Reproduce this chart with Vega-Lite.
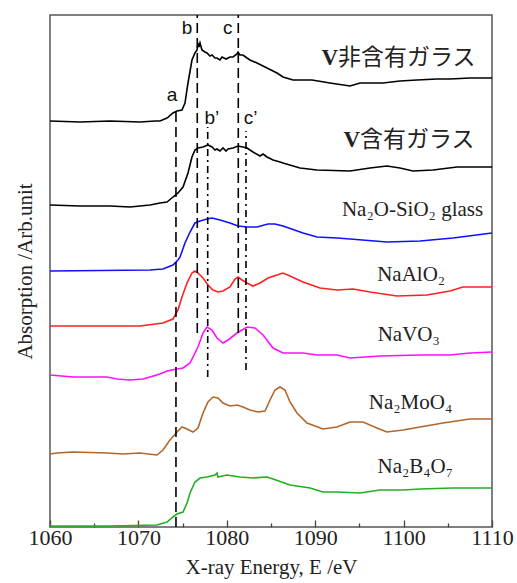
{
  "$schema": "https://vega.github.io/schema/vega-lite/v6.json",
  "width": 442,
  "height": 512,
  "autosize": "none",
  "padding": {"left": 50, "top": 15, "right": 25, "bottom": 56},
  "config": {"view": {"stroke": "#555555", "strokeWidth": 1.5}, "font": "Liberation Serif"},
  "datasets": {
    "spectra": [
      {"series": "V非含有ガラス", "E": 1060, "A": 406}, {"series": "V非含有ガラス", "E": 1063.39, "A": 405}, {"series": "V非含有ガラス", "E": 1066.79, "A": 406}, {"series": "V非含有ガラス", "E": 1070.18, "A": 405}, {"series": "V非含有ガラス", "E": 1071.88, "A": 406}, {"series": "V非含有ガラス", "E": 1072.44, "A": 406}, {"series": "V非含有ガラス", "E": 1073.24, "A": 409}, {"series": "V非含有ガラス", "E": 1073.91, "A": 414}, {"series": "V非含有ガラス", "E": 1074.37, "A": 416}, {"series": "V非含有ガラス", "E": 1074.93, "A": 417}, {"series": "V非含有ガラス", "E": 1075.27, "A": 424}, {"series": "V非含有ガラス", "E": 1075.61, "A": 444}, {"series": "V非含有ガラス", "E": 1076.06, "A": 467}, {"series": "V非含有ガラス", "E": 1076.4, "A": 474}, {"series": "V非含有ガラス", "E": 1076.63, "A": 477}, {"series": "V非含有ガラス", "E": 1076.74, "A": 484}, {"series": "V非含有ガラス", "E": 1076.86, "A": 480}, {"series": "V非含有ガラス", "E": 1076.97, "A": 484}, {"series": "V非含有ガラス", "E": 1077.19, "A": 477}, {"series": "V非含有ガラス", "E": 1077.53, "A": 475}, {"series": "V非含有ガラス", "E": 1077.76, "A": 474}, {"series": "V非含有ガラス", "E": 1078.1, "A": 471}, {"series": "V非含有ガラス", "E": 1078.33, "A": 472}, {"series": "V非含有ガラス", "E": 1078.67, "A": 469}, {"series": "V非含有ガラス", "E": 1078.89, "A": 469}, {"series": "V非含有ガラス", "E": 1079.23, "A": 467}, {"series": "V非含有ガラス", "E": 1079.46, "A": 470}, {"series": "V非含有ガラス", "E": 1079.91, "A": 468}, {"series": "V非含有ガラス", "E": 1080.36, "A": 470}, {"series": "V非含有ガラス", "E": 1080.7, "A": 470}, {"series": "V非含有ガラス", "E": 1081.15, "A": 473}, {"series": "V非含有ガラス", "E": 1081.27, "A": 475}, {"series": "V非含有ガラス", "E": 1081.49, "A": 472}, {"series": "V非含有ガラス", "E": 1081.83, "A": 472}, {"series": "V非含有ガラス", "E": 1082.29, "A": 469}, {"series": "V非含有ガラス", "E": 1082.62, "A": 467}, {"series": "V非含有ガラス", "E": 1083.42, "A": 464}, {"series": "V非含有ガラス", "E": 1084.55, "A": 459}, {"series": "V非含有ガラス", "E": 1085.68, "A": 454}, {"series": "V非含有ガラス", "E": 1086.36, "A": 450}, {"series": "V非含有ガラス", "E": 1087.49, "A": 447}, {"series": "V非含有ガラス", "E": 1088.62, "A": 447}, {"series": "V非含有ガラス", "E": 1089.64, "A": 447}, {"series": "V非含有ガラス", "E": 1091.67, "A": 444}, {"series": "V非含有ガラス", "E": 1093.94, "A": 441}, {"series": "V非含有ガラス", "E": 1095.07, "A": 444}, {"series": "V非含有ガラス", "E": 1097.67, "A": 444}, {"series": "V非含有ガラス", "E": 1099.59, "A": 446}, {"series": "V非含有ガラス", "E": 1101.52, "A": 447}, {"series": "V非含有ガラス", "E": 1103.78, "A": 448}, {"series": "V非含有ガラス", "E": 1105.25, "A": 448}, {"series": "V非含有ガラス", "E": 1107.51, "A": 449}, {"series": "V非含有ガラス", "E": 1110, "A": 449},

      {"series": "V含有ガラス", "E": 1060, "A": 322}, {"series": "V含有ガラス", "E": 1063.39, "A": 321}, {"series": "V含有ガラス", "E": 1066.79, "A": 321}, {"series": "V含有ガラス", "E": 1069.05, "A": 320}, {"series": "V含有ガラス", "E": 1071.31, "A": 322}, {"series": "V含有ガラス", "E": 1072.44, "A": 324}, {"series": "V含有ガラス", "E": 1073.24, "A": 325}, {"series": "V含有ガラス", "E": 1073.91, "A": 330}, {"series": "V含有ガラス", "E": 1074.48, "A": 334}, {"series": "V含有ガラス", "E": 1075.05, "A": 340}, {"series": "V含有ガラス", "E": 1075.61, "A": 354}, {"series": "V含有ガラス", "E": 1076.06, "A": 370}, {"series": "V含有ガラス", "E": 1076.4, "A": 377}, {"series": "V含有ガラス", "E": 1076.74, "A": 379}, {"series": "V含有ガラス", "E": 1077.31, "A": 380}, {"series": "V含有ガラス", "E": 1077.87, "A": 382}, {"series": "V含有ガラス", "E": 1078.33, "A": 380}, {"series": "V含有ガラス", "E": 1078.67, "A": 377}, {"series": "V含有ガラス", "E": 1078.89, "A": 378}, {"series": "V含有ガラス", "E": 1079.23, "A": 376}, {"series": "V含有ガラス", "E": 1079.57, "A": 379}, {"series": "V含有ガラス", "E": 1079.91, "A": 376}, {"series": "V含有ガラス", "E": 1080.14, "A": 378}, {"series": "V含有ガラス", "E": 1080.7, "A": 379}, {"series": "V含有ガラス", "E": 1081.27, "A": 381}, {"series": "V含有ガラス", "E": 1081.83, "A": 380}, {"series": "V含有ガラス", "E": 1082.29, "A": 379}, {"series": "V含有ガラス", "E": 1082.96, "A": 375}, {"series": "V含有ガラス", "E": 1083.76, "A": 371}, {"series": "V含有ガラス", "E": 1084.1, "A": 373}, {"series": "V含有ガラス", "E": 1084.55, "A": 370}, {"series": "V含有ガラス", "E": 1085.23, "A": 367}, {"series": "V含有ガラス", "E": 1086.02, "A": 365}, {"series": "V含有ガラス", "E": 1086.36, "A": 364}, {"series": "V含有ガラス", "E": 1088.28, "A": 359}, {"series": "V含有ガラス", "E": 1090.2, "A": 357}, {"series": "V含有ガラス", "E": 1093.94, "A": 356}, {"series": "V含有ガラス", "E": 1096.2, "A": 359}, {"series": "V含有ガラス", "E": 1098.12, "A": 361}, {"series": "V含有ガラス", "E": 1099.59, "A": 359}, {"series": "V含有ガラス", "E": 1101.06, "A": 356}, {"series": "V含有ガラス", "E": 1103.33, "A": 357}, {"series": "V含有ガラス", "E": 1106.04, "A": 360}, {"series": "V含有ガラス", "E": 1110, "A": 360},

      {"series": "Na2O-SiO2", "E": 1060, "A": 256}, {"series": "Na2O-SiO2", "E": 1071.31, "A": 257}, {"series": "Na2O-SiO2", "E": 1072.78, "A": 258}, {"series": "Na2O-SiO2", "E": 1073.91, "A": 262}, {"series": "Na2O-SiO2", "E": 1074.48, "A": 267}, {"series": "Na2O-SiO2", "E": 1074.71, "A": 270}, {"series": "Na2O-SiO2", "E": 1075.27, "A": 284}, {"series": "Na2O-SiO2", "E": 1075.84, "A": 295}, {"series": "Na2O-SiO2", "E": 1076.4, "A": 304}, {"series": "Na2O-SiO2", "E": 1076.97, "A": 306}, {"series": "Na2O-SiO2", "E": 1077.76, "A": 308}, {"series": "Na2O-SiO2", "E": 1078.33, "A": 309}, {"series": "Na2O-SiO2", "E": 1079.23, "A": 307}, {"series": "Na2O-SiO2", "E": 1080.36, "A": 304}, {"series": "Na2O-SiO2", "E": 1081.27, "A": 301}, {"series": "Na2O-SiO2", "E": 1082.29, "A": 300}, {"series": "Na2O-SiO2", "E": 1083.42, "A": 300}, {"series": "Na2O-SiO2", "E": 1084.66, "A": 303}, {"series": "Na2O-SiO2", "E": 1085.45, "A": 303}, {"series": "Na2O-SiO2", "E": 1086.36, "A": 301}, {"series": "Na2O-SiO2", "E": 1088.62, "A": 294}, {"series": "Na2O-SiO2", "E": 1090.2, "A": 290}, {"series": "Na2O-SiO2", "E": 1092.47, "A": 289}, {"series": "Na2O-SiO2", "E": 1093.94, "A": 288}, {"series": "Na2O-SiO2", "E": 1098.12, "A": 285}, {"series": "Na2O-SiO2", "E": 1101.86, "A": 286}, {"series": "Na2O-SiO2", "E": 1105.59, "A": 289}, {"series": "Na2O-SiO2", "E": 1110, "A": 294},

      {"series": "NaAlO2", "E": 1060, "A": 201}, {"series": "NaAlO2", "E": 1070.18, "A": 201}, {"series": "NaAlO2", "E": 1072.78, "A": 204}, {"series": "NaAlO2", "E": 1073.91, "A": 208}, {"series": "NaAlO2", "E": 1074.48, "A": 217}, {"series": "NaAlO2", "E": 1074.93, "A": 230}, {"series": "NaAlO2", "E": 1075.5, "A": 244}, {"series": "NaAlO2", "E": 1076.06, "A": 254}, {"series": "NaAlO2", "E": 1076.4, "A": 256}, {"series": "NaAlO2", "E": 1076.74, "A": 254}, {"series": "NaAlO2", "E": 1077.31, "A": 249}, {"series": "NaAlO2", "E": 1077.87, "A": 242}, {"series": "NaAlO2", "E": 1078.44, "A": 237}, {"series": "NaAlO2", "E": 1079.0, "A": 235}, {"series": "NaAlO2", "E": 1079.57, "A": 236}, {"series": "NaAlO2", "E": 1080.36, "A": 240}, {"series": "NaAlO2", "E": 1080.93, "A": 248}, {"series": "NaAlO2", "E": 1081.27, "A": 250}, {"series": "NaAlO2", "E": 1081.72, "A": 247}, {"series": "NaAlO2", "E": 1082.29, "A": 244}, {"series": "NaAlO2", "E": 1082.96, "A": 241}, {"series": "NaAlO2", "E": 1083.76, "A": 244}, {"series": "NaAlO2", "E": 1084.66, "A": 249}, {"series": "NaAlO2", "E": 1085.68, "A": 252}, {"series": "NaAlO2", "E": 1086.36, "A": 254}, {"series": "NaAlO2", "E": 1087.15, "A": 251}, {"series": "NaAlO2", "E": 1088.62, "A": 245}, {"series": "NaAlO2", "E": 1090.54, "A": 239}, {"series": "NaAlO2", "E": 1092.47, "A": 237}, {"series": "NaAlO2", "E": 1094.28, "A": 238}, {"series": "NaAlO2", "E": 1096.2, "A": 235}, {"series": "NaAlO2", "E": 1099.25, "A": 231}, {"series": "NaAlO2", "E": 1102.65, "A": 232}, {"series": "NaAlO2", "E": 1105.25, "A": 236}, {"series": "NaAlO2", "E": 1106.72, "A": 240}, {"series": "NaAlO2", "E": 1110, "A": 240},

      {"series": "NaVO3", "E": 1060, "A": 152}, {"series": "NaVO3", "E": 1062.6, "A": 150}, {"series": "NaVO3", "E": 1066.45, "A": 150}, {"series": "NaVO3", "E": 1067.58, "A": 148}, {"series": "NaVO3", "E": 1069.05, "A": 147}, {"series": "NaVO3", "E": 1070.52, "A": 148}, {"series": "NaVO3", "E": 1071.31, "A": 150}, {"series": "NaVO3", "E": 1072.44, "A": 153}, {"series": "NaVO3", "E": 1073.24, "A": 156}, {"series": "NaVO3", "E": 1074.37, "A": 158}, {"series": "NaVO3", "E": 1075.05, "A": 159}, {"series": "NaVO3", "E": 1075.84, "A": 164}, {"series": "NaVO3", "E": 1076.74, "A": 180}, {"series": "NaVO3", "E": 1077.31, "A": 194}, {"series": "NaVO3", "E": 1077.76, "A": 200}, {"series": "NaVO3", "E": 1078.33, "A": 197}, {"series": "NaVO3", "E": 1078.89, "A": 189}, {"series": "NaVO3", "E": 1079.57, "A": 184}, {"series": "NaVO3", "E": 1080.14, "A": 187}, {"series": "NaVO3", "E": 1081.15, "A": 194}, {"series": "NaVO3", "E": 1082.29, "A": 200}, {"series": "NaVO3", "E": 1083.19, "A": 199}, {"series": "NaVO3", "E": 1084.1, "A": 192}, {"series": "NaVO3", "E": 1085.23, "A": 179}, {"series": "NaVO3", "E": 1086.36, "A": 174}, {"series": "NaVO3", "E": 1088.62, "A": 174}, {"series": "NaVO3", "E": 1090.2, "A": 172}, {"series": "NaVO3", "E": 1092.47, "A": 172}, {"series": "NaVO3", "E": 1093.94, "A": 169}, {"series": "NaVO3", "E": 1097.33, "A": 171}, {"series": "NaVO3", "E": 1101.86, "A": 172}, {"series": "NaVO3", "E": 1105.25, "A": 172}, {"series": "NaVO3", "E": 1107.51, "A": 174}, {"series": "NaVO3", "E": 1110, "A": 175},

      {"series": "Na2MoO4", "E": 1060, "A": 73}, {"series": "Na2MoO4", "E": 1060.79, "A": 74}, {"series": "Na2MoO4", "E": 1062.6, "A": 75}, {"series": "Na2MoO4", "E": 1066.45, "A": 74}, {"series": "Na2MoO4", "E": 1068.26, "A": 73}, {"series": "Na2MoO4", "E": 1070.18, "A": 74}, {"series": "Na2MoO4", "E": 1072.1, "A": 72}, {"series": "Na2MoO4", "E": 1072.78, "A": 77}, {"series": "Na2MoO4", "E": 1073.57, "A": 87}, {"series": "Na2MoO4", "E": 1074.37, "A": 95}, {"series": "Na2MoO4", "E": 1074.93, "A": 100}, {"series": "Na2MoO4", "E": 1075.5, "A": 98}, {"series": "Na2MoO4", "E": 1076.18, "A": 95}, {"series": "Na2MoO4", "E": 1076.74, "A": 99}, {"series": "Na2MoO4", "E": 1077.31, "A": 114}, {"series": "Na2MoO4", "E": 1077.87, "A": 125}, {"series": "Na2MoO4", "E": 1078.44, "A": 130}, {"series": "Na2MoO4", "E": 1079.0, "A": 129}, {"series": "Na2MoO4", "E": 1079.57, "A": 124}, {"series": "Na2MoO4", "E": 1080.36, "A": 121}, {"series": "Na2MoO4", "E": 1081.15, "A": 122}, {"series": "Na2MoO4", "E": 1081.83, "A": 120}, {"series": "Na2MoO4", "E": 1082.62, "A": 117}, {"series": "Na2MoO4", "E": 1083.53, "A": 115}, {"series": "Na2MoO4", "E": 1084.32, "A": 116}, {"series": "Na2MoO4", "E": 1084.89, "A": 127}, {"series": "Na2MoO4", "E": 1085.45, "A": 137}, {"series": "Na2MoO4", "E": 1086.02, "A": 140}, {"series": "Na2MoO4", "E": 1086.58, "A": 137}, {"series": "Na2MoO4", "E": 1087.15, "A": 125}, {"series": "Na2MoO4", "E": 1087.94, "A": 114}, {"series": "Na2MoO4", "E": 1089.07, "A": 104}, {"series": "Na2MoO4", "E": 1090.88, "A": 98}, {"series": "Na2MoO4", "E": 1092.47, "A": 100}, {"series": "Na2MoO4", "E": 1093.94, "A": 105}, {"series": "Na2MoO4", "E": 1095.41, "A": 105}, {"series": "Na2MoO4", "E": 1096.99, "A": 99}, {"series": "Na2MoO4", "E": 1098.12, "A": 95}, {"series": "Na2MoO4", "E": 1099.93, "A": 97}, {"series": "Na2MoO4", "E": 1101.86, "A": 100}, {"series": "Na2MoO4", "E": 1104.46, "A": 104}, {"series": "Na2MoO4", "E": 1107.51, "A": 108}, {"series": "Na2MoO4", "E": 1110, "A": 108},

      {"series": "Na2B4O7", "E": 1060, "A": 1}, {"series": "Na2B4O7", "E": 1066.79, "A": 1}, {"series": "Na2B4O7", "E": 1072.1, "A": 2}, {"series": "Na2B4O7", "E": 1073.24, "A": 5}, {"series": "Na2B4O7", "E": 1073.91, "A": 10}, {"series": "Na2B4O7", "E": 1074.37, "A": 13}, {"series": "Na2B4O7", "E": 1075.05, "A": 15}, {"series": "Na2B4O7", "E": 1075.5, "A": 24}, {"series": "Na2B4O7", "E": 1075.84, "A": 34}, {"series": "Na2B4O7", "E": 1076.4, "A": 45}, {"series": "Na2B4O7", "E": 1076.97, "A": 49}, {"series": "Na2B4O7", "E": 1077.76, "A": 50}, {"series": "Na2B4O7", "E": 1078.67, "A": 52}, {"series": "Na2B4O7", "E": 1078.89, "A": 54}, {"series": "Na2B4O7", "E": 1079.0, "A": 50}, {"series": "Na2B4O7", "E": 1080.02, "A": 52}, {"series": "Na2B4O7", "E": 1081.49, "A": 50}, {"series": "Na2B4O7", "E": 1082.96, "A": 49}, {"series": "Na2B4O7", "E": 1084.55, "A": 50}, {"series": "Na2B4O7", "E": 1085.23, "A": 48}, {"series": "Na2B4O7", "E": 1087.15, "A": 42}, {"series": "Na2B4O7", "E": 1089.41, "A": 39}, {"series": "Na2B4O7", "E": 1090.88, "A": 35}, {"series": "Na2B4O7", "E": 1092.47, "A": 35}, {"series": "Na2B4O7", "E": 1095.07, "A": 34}, {"series": "Na2B4O7", "E": 1097.33, "A": 37}, {"series": "Na2B4O7", "E": 1099.93, "A": 37}, {"series": "Na2B4O7", "E": 1101.86, "A": 38}, {"series": "Na2B4O7", "E": 1105.59, "A": 39}, {"series": "Na2B4O7", "E": 1110, "A": 39}
    ],
    "guides": [
      {"kind": "dash", "E": 1074.25, "A1": 0, "A2": 420},
      {"kind": "dash", "E": 1076.66, "A1": 194, "A2": 512},
      {"kind": "dash", "E": 1081.3, "A1": 194, "A2": 512},
      {"kind": "dashdot", "E": 1077.84, "A1": 150, "A2": 400},
      {"kind": "dashdot", "E": 1082.17, "A1": 157, "A2": 396}
    ],
    "peaks": [
      {"t": "a", "E": 1073.8, "A": 432},
      {"t": "b", "E": 1075.5, "A": 499},
      {"t": "c", "E": 1080.1, "A": 499},
      {"t": "b’", "E": 1078.3, "A": 409},
      {"t": "c’", "E": 1082.7, "A": 409}
    ],
    "names": [
      {"t": "Na₂O-SiO₂ glass", "E": 1109.0, "A": 317},
      {"t": "NaAlO₂", "E": 1104.7, "A": 252},
      {"t": "NaVO₃", "E": 1104.1, "A": 192},
      {"t": "Na₂MoO₄", "E": 1105.5, "A": 124},
      {"t": "Na₂B₄O₇", "E": 1105.6, "A": 60}
    ],
    "jp": [
      {"v": "V", "t": "非含有ガラス", "E": 1092.58, "A": 469},
      {"v": "V", "t": "含有ガラス", "E": 1095.07, "A": 387}
    ]
  },
  "encoding": {
    "x": {
      "field": "E", "type": "quantitative",
      "scale": {"domain": [1060, 1110], "nice": false, "zero": false},
      "axis": {
        "orient": "bottom",
        "values": [1060, 1065, 1070, 1075, 1080, 1085, 1090, 1095, 1100, 1105, 1110],
        "format": "d",
        "labelExpr": "datum.value % 10 === 0 ? datum.label : ''",
        "tickSize": {"condition": {"test": "datum.value % 10 === 0", "value": -7}, "value": -4},
        "tickColor": "#444444", "tickWidth": 1.3,
        "domain": false, "grid": false,
        "labelFont": "Liberation Serif", "labelFontSize": 22, "labelColor": "#222222",
        "labelPadding": 7, "labelFlush": false,
        "title": "X-ray Energy, E /eV",
        "titleFont": "Liberation Serif", "titleFontSize": 21, "titleFontWeight": "normal", "titleColor": "#222222",
        "titlePadding": 8
      }
    },
    "y": {
      "field": "A", "type": "quantitative",
      "scale": {"domain": [0, 512], "nice": false},
      "axis": {
        "title": "Absorption /Arb.unit", "labels": false, "ticks": false, "domain": false, "grid": false,
        "titleFont": "Liberation Serif", "titleFontSize": 21, "titleFontWeight": "normal", "titleColor": "#222222",
        "titlePadding": 15
      }
    }
  },
  "layer": [
    {
      "data": {"name": "spectra"},
      "mark": {"type": "line", "strokeWidth": 1.6},
      "encoding": {
        "color": {
          "field": "series", "type": "nominal",
          "scale": {
            "domain": ["V非含有ガラス", "V含有ガラス", "Na2O-SiO2", "NaAlO2", "NaVO3", "Na2MoO4", "Na2B4O7"],
            "range": ["#000000", "#000000", "#1010ff", "#ff2020", "#ff10ff", "#b4652a", "#22b022"]
          },
          "legend": null
        }
      }
    },
    {
      "data": {"name": "guides"},
      "mark": {"type": "rule", "strokeWidth": 1.6, "color": "#000000"},
      "encoding": {
        "y": {"field": "A1", "type": "quantitative"},
        "y2": {"field": "A2"},
        "strokeDash": {
          "field": "kind", "type": "nominal",
          "scale": {"domain": ["dash", "dashdot"], "range": [[10, 5], [7, 4, 2, 4]]},
          "legend": null
        }
      }
    },
    {
      "data": {"name": "peaks"},
      "mark": {"type": "text", "font": "Liberation Sans", "fontSize": 19, "color": "#111111", "baseline": "middle", "align": "center"},
      "encoding": {"text": {"field": "t"}}
    },
    {
      "data": {"name": "names"},
      "mark": {"type": "text", "font": "Liberation Serif", "fontSize": 21, "color": "#222222", "baseline": "middle", "align": "right"},
      "encoding": {"text": {"field": "t"}}
    },
    {
      "data": {"name": "jp"},
      "mark": {"type": "text", "font": "Liberation Serif", "fontWeight": "bold", "fontSize": 23, "color": "#222222", "baseline": "middle", "align": "right"},
      "encoding": {"text": {"field": "v"}}
    },
    {
      "data": {"name": "jp"},
      "mark": {"type": "text", "font": "Noto Sans CJK JP", "fontSize": 23, "color": "#222222", "baseline": "middle", "align": "left"},
      "encoding": {"text": {"field": "t"}}
    }
  ]
}
